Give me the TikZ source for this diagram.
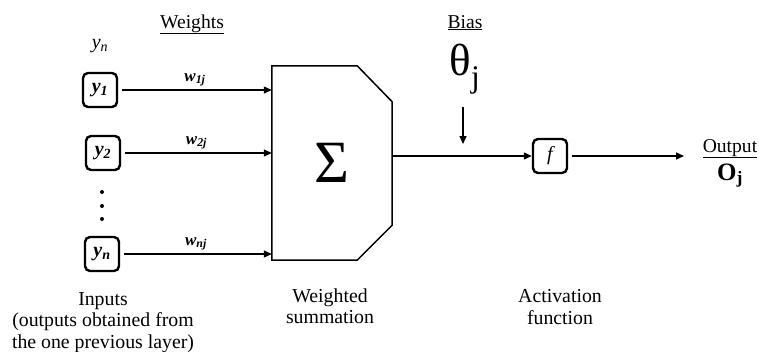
\documentclass[tikz,border=0pt]{standalone}
\usepackage{fontspec}
\setmainfont{Liberation Serif}
\usetikzlibrary{arrows.meta,positioning}

\begin{document}
\begin{tikzpicture}[x=1pt, y=-1pt,
  inbox/.style={draw, line width=2.4pt, rounded corners=5pt, minimum width=34pt, minimum height=34pt, inner sep=0pt, font=\fontsize{20}{20}\selectfont\bfseries\itshape},
  lab/.style={font=\fontsize{19.6}{21.5}\selectfont, inner sep=0pt, anchor=base},
  wlab/.style={font=\fontsize{17}{17}\selectfont\bfseries\itshape, inner sep=0pt, anchor=base, yshift=9pt},
  note/.style={font=\fontsize{19.8}{21.5}\selectfont, align=center, inner sep=0pt, anchor=north},
  arr/.style={-{Triangle[length=8pt,width=7pt]}, line width=1.2pt}
]
\useasboundingbox[fill=white] (0,0) rectangle (759,351);

% inputs
\node[lab, font=\fontsize{20}{20}\selectfont\itshape] (ytop) at (100,48) {y\textsubscript{n}};
\node[inbox] (y1) at (100,90) {y\textsubscript{1}};
\node[inbox] (y2) at (103,153) {y\textsubscript{2}};
\node[inbox] (yn) at (102,254) {y\textsubscript{n}};
\foreach \yy in {192,206,219}
  \fill (102,\yy) circle (2pt);

% weighted summation block
\node[minimum width=120pt, minimum height=194pt, inner sep=0pt, font=\fontsize{60}{60}\selectfont] (sum) at (332,163) {Σ};
\draw[line width=1.5pt] (sum.north west) -- ([xshift=-35pt]sum.north east) -- ([yshift=-36pt]sum.north east)
  -- ([yshift=35pt]sum.south east) -- ([xshift=-35pt]sum.south east) -- (sum.south west) -- cycle;

% activation
\node[inbox, font=\fontsize{20}{20}\selectfont\itshape] (f) at (550,156) {f};
\node[lab, font=\fontsize{45}{45}\selectfont] (theta) at (465,75) {θ\textsubscript{j}};
\coordinate (btop) at (463,107);
\coordinate (bbot) at (463,144);
\coordinate (out) at (684,156);

% labels
\node[lab] (wts) at (192,28) {\underline{Weights}};
\node[lab] (bias) at (465,28) {\underline{Bias}};
\node[lab] (outl) at (730,152) {\underline{Output}};
\node[lab, font=\fontsize{25}{25}\selectfont\bfseries] (oj) at (730,180) {O\textsubscript{j}};

\node[note] (inp) at (103,292) {Inputs\\(outputs obtained from\\the one previous layer)};
\node[note] (wsum) at (330,288.5) {Weighted\\summation};
\node[note] (act) at (560,289.5) {Activation\\function};

% connectors
\draw[arr, shorten <=4pt] (y1.east) -- node[wlab] {w\textsubscript{1j}} (y1.east -| sum.west);
\draw[arr, shorten <=4pt] (y2.east) -- node[wlab] {w\textsubscript{2j}} (y2.east -| sum.west);
\draw[arr, shorten <=4pt] (yn.east) -- node[wlab] {w\textsubscript{nj}} (yn.east -| sum.west);
\draw[arr] (f -| sum.east) -- (f.west);
\draw[arr] (btop) -- (bbot);
\draw[arr, shorten <=4pt] (f.east) -- (out);
\end{tikzpicture}
\end{document}
